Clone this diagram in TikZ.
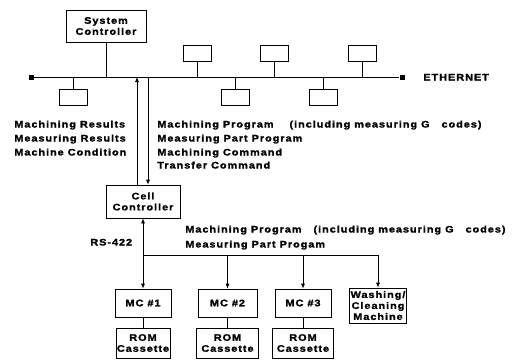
\documentclass[tikz,border=0pt]{standalone}
\usepackage{fontspec}
\setmainfont[FakeStretch=1.15,LetterSpace=10,FakeBold=1.5]{Liberation Sans}
\usetikzlibrary{arrows.meta}

\begin{document}
\begin{tikzpicture}[x=1pt,y=-1pt,node distance=40pt,
  font=\fontsize{9.5}{11}\selectfont\bfseries,line width=0.7pt,
  >={Latex[length=5pt,width=4pt]},
  box node/.style={rectangle,draw,align=center,inner sep=1pt},
  stub node/.style={rectangle,draw,minimum width=28pt,minimum height=16pt},
  end node/.style={rectangle,fill,minimum size=5pt,inner sep=0pt},
  label node/.style={anchor=base west,inner sep=0pt}]
  \useasboundingbox (0,0) rectangle (521,360);

  % ethernet
  \node[end node] (eL) at (31,77) {};
  \node[end node] (eR) at (402,77) {};
  \node[label node] (eth) at (423,80.5) {ETHERNET};
  \draw (eL) -- (eR);

  \node[box node, minimum width=80pt, minimum height=32pt] (sys) at (106,26) {System\\Controller};
  \node[stub node] (s1) at (73.5,97) {};
  \node[stub node] (s2) at (197.5,53) {};
  \node[stub node] (s3) at (235.5,97) {};
  \node[stub node] (s4) at (274,53) {};
  \node[stub node] (s5) at (323,97) {};
  \node[stub node] (s6) at (362.5,53) {};
  \draw (sys) -- (sys |- eL);
  \draw (s1) -- (s1 |- eL);
  \draw (s2) -- (s2 |- eL);
  \draw (s3) -- (s3 |- eL);
  \draw (s4) -- (s4 |- eL);
  \draw (s5) -- (s5 |- eL);
  \draw (s6) -- (s6 |- eL);

  % cell controller
  \node[box node, minimum width=74pt, minimum height=33pt] (cell) at (143,201.5) {Cell\\Controller};
  \draw[->] ([xshift=-6pt]cell.north) -- ([xshift=-6pt]cell.north |- eL);
  \draw[->] ([xshift=5pt]cell.north |- eL) -- ([xshift=5pt]cell.north);

  \node[label node] (up1) at (14,127.5) {Machining Results};
  \node[label node] (up2) at (14,141.5) {Measuring Results};
  \node[label node] (up3) at (14,155.5) {Machine Condition};
  \node[label node] (dn1) at (157,127.5) {Machining Program\ \ \ \ (including measuring G\ \ \ codes)};
  \node[label node] (dn2) at (157,141.5) {Measuring Part Program};
  \node[label node] (dn3) at (157,155.5) {Machining Command};
  \node[label node] (dn4) at (157,168.5) {Transfer Command};

  % RS-422 line
  \coordinate (bus) at (143,255);
  \coordinate (busR) at (378,255);
  \node[label node] (rs) at (90,245.5) {RS-422};
  \node[label node] (mc) at (185,232.5) {Machining Program\ \ \ (including measuring G\ \ \ codes)};
  \node[label node] (mp) at (185,247.5) {Measuring Part Progam};

  \node[box node, minimum width=56pt, minimum height=28pt] (mc1) at (143,303) {MC \#1};
  \node[box node, minimum width=59pt, minimum height=28pt] (mc2) at (227.5,303) {MC \#2};
  \node[box node, minimum width=56pt, minimum height=28pt] (mc3) at (303,303) {MC \#3};
  \node[box node, minimum width=57pt, minimum height=35pt] (wash) at (378,305.5) {Washing/\\Cleaning\\Machine};
  \node[box node, minimum width=54pt, minimum height=30pt] (rom1) [below of=mc1] {ROM\\Cassette};
  \node[box node, minimum width=62pt, minimum height=30pt] (rom2) [below of=mc2] {ROM\\Cassette};
  \node[box node, minimum width=61pt, minimum height=30pt] (rom3) [below of=mc3] {ROM\\Cassette};

  \draw[->] (bus) -- (cell);
  \draw (bus) -- (busR);
  \draw[->] (bus) -- (mc1);
  \draw[->] (bus -| mc2) -- (mc2);
  \draw[->] (bus -| mc3) -- (mc3);
  \draw[->] (busR) -- (wash);
  \path (mc1) edge (rom1)
        (mc2) edge (rom2)
        (mc3) edge (rom3);
\end{tikzpicture}
\end{document}
